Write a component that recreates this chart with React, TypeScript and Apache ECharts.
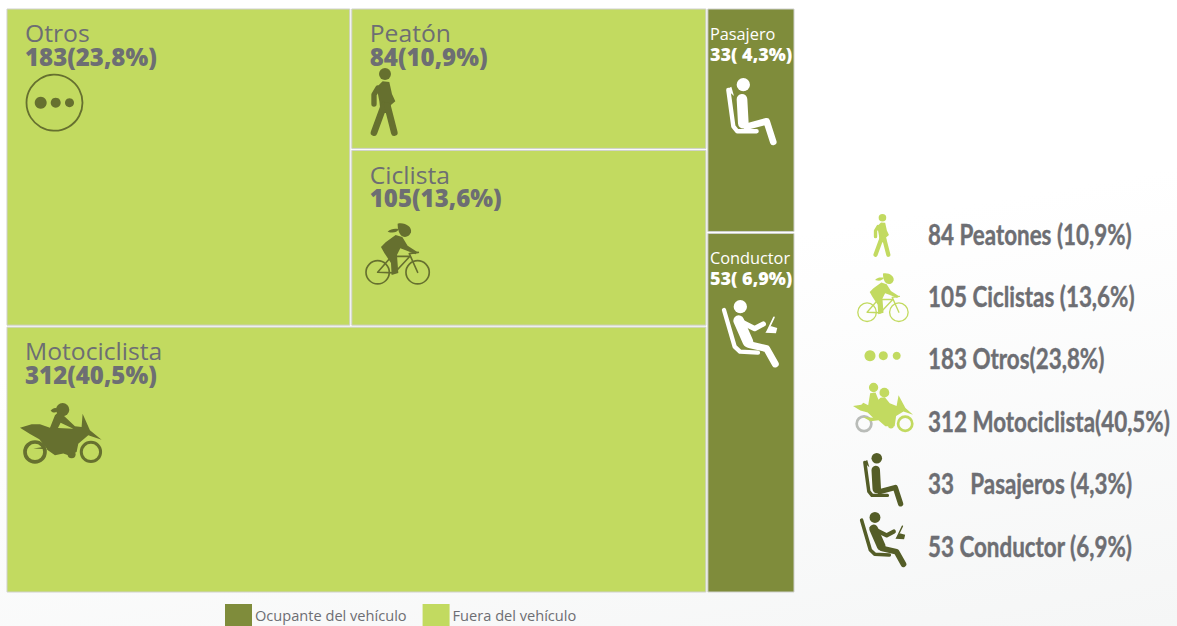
import React, { useEffect, useRef } from "react";
import * as echarts from "echarts";

// ---------- data ----------
const outsideNames = ["Motociclista", "Otros", "Peatón", "Ciclista"];
const outsideValues = [312, 183, 84, 105];
const outsideLabels = ["312(40,5%)", "183(23,8%)", "84(10,9%)", "105(13,6%)"];
const occupantNames = ["Pasajero", "Conductor"];
const occupantValues = [33, 53];
const occupantLabels = ["33( 4,3%)", "53( 6,9%)"];
const legendNames = ["Ocupante del vehículo", "Fuera del vehículo"];
const sideLabels = [
  "84 Peatones (10,9%)",
  "105 Ciclistas (13,6%)",
  "183 Otros(23,8%)",
  "312 Motociclista(40,5%)",
  "33   Pasajeros (4,3%)",
  "53 Conductor (6,9%)",
];

// ---------- style ----------
const LIGHT = "#c2da60";
const DARK = "#7f8c3b";
const ICON = "#66702f";
const ICON_DEEP = "#545d27";
const GREY = "#6d6e73";
const FONT = "Lato, 'Open Sans', sans-serif";
const CELL_FONT = "'Open Sans', Lato, sans-serif";

const sum = (a: number[]) => a.reduce((s, v) => s + v, 0);

// slice-and-dice layout in value units, handed to the axes by api.coord
type Cell = { box: number[]; name: string; label: string };
const totalOutside = sum(outsideValues);
const totalOccupant = sum(occupantValues);
const total = totalOutside + totalOccupant;

const motoShare = outsideValues[0] / totalOutside;
const topShare = 1 - motoShare;
const topTotal = outsideValues[1] + outsideValues[2] + outsideValues[3];
const otrosW = (totalOutside * outsideValues[1]) / topTotal;
const peatonShare = (topShare * outsideValues[2]) / (outsideValues[2] + outsideValues[3]);
const outsideCells: Cell[] = [
  { box: [0, topShare, totalOutside, 1], name: outsideNames[0], label: outsideLabels[0] },
  { box: [0, 0, otrosW, topShare], name: outsideNames[1], label: outsideLabels[1] },
  { box: [otrosW, 0, totalOutside, peatonShare], name: outsideNames[2], label: outsideLabels[2] },
  { box: [otrosW, peatonShare, totalOutside, topShare], name: outsideNames[3], label: outsideLabels[3] },
];
const pasajeroShare = occupantValues[0] / totalOccupant;
const occupantCells: Cell[] = [
  { box: [totalOutside, 0, total, pasajeroShare], name: occupantNames[0], label: occupantLabels[0] },
  { box: [totalOutside, pasajeroShare, total, 1], name: occupantNames[1], label: occupantLabels[1] },
];

const cellRenderer =
  (cells: Cell[], fill: string, textFill: string, padX: number, nameY: number, valueY: number, nameSize: number, valueSize: number, nameScale: number) =>
  (params: any, api: any) => {
    const c = cells[params.dataIndex];
    const a = api.coord([c.box[0], c.box[1]]);
    const b = api.coord([c.box[2], c.box[3]]);
    return {
      type: "group",
      children: [
        {
          type: "rect",
          shape: { x: a[0] + 1, y: a[1] + 1, width: b[0] - a[0] - 2, height: b[1] - a[1] - 2 },
          style: { fill, stroke: "#cfd0cc", lineWidth: 1 },
        },
        {
          type: "text",
          x: a[0] + padX,
          y: a[1] + nameY,
          scaleX: nameScale,
          style: {
            x: 0, y: 0, text: c.name, fill: textFill,
            fontFamily: CELL_FONT, fontSize: nameSize, fontWeight: 400, verticalAlign: "middle",
          },
        },
        {
          type: "text",
          style: {
            x: a[0] + padX, y: a[1] + valueY, text: c.label, fill: textFill,
            fontFamily: CELL_FONT, fontSize: valueSize, fontWeight: 800, verticalAlign: "middle",
          },
        },
      ],
    };
  };

// ---------- pictograms (paths in 3x units) ----------
const dot = (cx: number, cy: number, r: number) =>
  `M${cx - r} ${cy}a${r} ${r} 0 1 0 ${2 * r} 0a${r} ${r} 0 1 0 ${-2 * r} 0Z`;

type Part = { d: string; w?: number; tint?: string };
const walker: Part[] = [
  { d: dot(45, 18, 18) },
  { d: "M20 58L38 40L58 42L66 78L76 100L62 112L64 135L32 135L28 100Z" },
  { d: "M42 112L12 194", w: 20 },
  { d: "M52 112L73 194", w: 20 },
  { d: "M24 60L12 80L12 108", w: 16 },
];
const cyclist: Part[] = [
  { d: dot(38, 148, 35), w: 5 },
  { d: dot(158, 148, 35), w: 5 },
  { d: "M38 148L80 100L135 100L88 150Z", w: 5 },
  { d: "M158 148L133 92L160 88", w: 5 },
  { d: "M98 2C120 -3 142 12 138 28C134 42 120 44 112 40C102 34 98 18 98 2Z" },
  { d: "M68 26C78 16 90 16 102 18C96 28 84 32 68 26Z" },
  { d: "M48 72L62 58L92 36L112 42L128 68L156 86L152 94L122 82L106 76L96 96L100 150L80 156L78 120L58 90Z" },
];
const moto: Part[] = [
  { d: dot(45, 150, 30), w: 11 },
  { d: dot(213, 150, 29), w: 9 },
  { d: dot(155, 157, 12) },
  { d: dot(128, 23, 20) },
  { d: "M92 26C100 16 108 16 116 22C110 34 100 34 92 26Z" },
  { d: "M0 77L35 67L60 67L90 77L105 40L115 30L130 40L165 73L185 75L188 35L210 85L245 113L205 100L175 125L170 150L145 160L130 155L105 160L70 135L40 140L82 142L58 112L30 96ZM122 62L114 78L160 80Z" },
];
const motoTwo: Part[] = [
  { d: dot(45, 150, 30), w: 11, tint: "#b9bcb8" },
  { d: dot(213, 150, 29), w: 11 },
  { d: dot(155, 157, 12) },
  { d: dot(128, 23, 20) },
  { d: dot(84, 2, 19) },
  { d: "M62 74L70 26L92 22L104 52L112 44L130 42L150 66L178 78L186 34L214 86L245 113L206 100L176 118L170 160L132 160L104 136L72 140L40 122L82 126L60 104L30 96L0 78L34 72L42 64Z" },
];
const seatPassenger: Part[] = [
  { d: dot(52, 20, 20) },
  { d: "M48 64L52 136", w: 32 },
  { d: "M62 146L122 130L142 192", w: 20 },
  { d: "M7 36L22 145L34 160L92 160", w: 13 },
  { d: "M2 34L16 26L24 54Z" },
];
const seatDriver: Part[] = [
  { d: dot(55, 20, 20) },
  { d: "M50 62L78 126", w: 32 },
  { d: "M58 66L98 86L124 72", w: 16 },
  { d: "M82 134L134 146L160 192", w: 21 },
  { d: "M6 30L38 140L54 155L108 158", w: 13 },
  { d: "M156 52L136 94", w: 5 },
  { d: "M146 78L166 84L162 100L130 98Z" },
];

const icons: Record<string, Part[]> = { walker, cyclist, moto, motoTwo, seatPassenger, seatDriver };
Object.keys(icons).forEach((k) =>
  icons[k].forEach((p, i) =>
    echarts.graphic.registerShape(`${k}${i}`, (echarts.graphic as any).extendPath(p.d, {}))
  )
);

const TOP = 20;
const icon = (key: string, x: number, y: number, size: number, color: string) => ({
  type: "group",
  x,
  y,
  scaleX: size,
  scaleY: size,
  silent: true,
  z: TOP,
  children: icons[key].map((p, i) => ({
    type: `${key}${i}`,
    z: TOP,
    style: p.w
      ? { fill: "none", stroke: p.tint || color, lineWidth: p.w, lineCap: "round", lineJoin: "round" }
      : { fill: p.tint || color },
  })),
});

const circle = (cx: number, cy: number, r: number, color: string, w = 0) => ({
  type: "circle",
  shape: { cx, cy, r },
  silent: true,
  z: TOP,
  style: w ? { fill: "none", stroke: color, lineWidth: w } : { fill: color },
});

const sideY = [234, 296, 358, 421, 483, 546];
const sideText = sideLabels.map((t, i) => ({
  type: "text",
  x: 928,
  y: sideY[i],
  scaleX: 0.8,
  silent: true,
  z: TOP,
  style: {
    text: t, fill: GREY, stroke: GREY, lineWidth: 0.4,
    fontFamily: FONT, fontSize: 28, fontWeight: 700, verticalAlign: "middle",
  },
}));

export default function App() {
  const ref = useRef<HTMLDivElement>(null);
  useEffect(() => {
    const chart = echarts.init(ref.current!, undefined, { renderer: "svg" });
    chart.setOption({
      animation: false,
      grid: { left: 6, top: 8, width: 789, height: 585 },
      xAxis: { type: "value", min: 0, max: total, show: false },
      yAxis: { type: "value", min: 0, max: 1, inverse: true, show: false },
      legend: {
        left: 225,
        top: 604,
        padding: 0,
        itemWidth: 27,
        itemHeight: 22,
        itemGap: 16,
        selectedMode: false,
        icon: "rect",
        data: legendNames,
        textStyle: { color: GREY, fontFamily: CELL_FONT, fontSize: 14.6, padding: [9, 0, 0, -2] },
      },
      series: [
        {
          type: "custom",
          name: legendNames[0],
          coordinateSystem: "cartesian2d",
          clip: false,
          silent: true,
          itemStyle: { color: DARK },
          data: occupantCells.map((c) => c.box),
          encode: { x: [0, 2], y: [1, 3] },
          renderItem: cellRenderer(occupantCells, DARK, "#ffffff", 3, 26, 46, 16, 18, 1.02),
        },
        {
          type: "custom",
          name: legendNames[1],
          coordinateSystem: "cartesian2d",
          clip: false,
          silent: true,
          itemStyle: { color: LIGHT },
          data: outsideCells.map((c) => c.box),
          encode: { x: [0, 2], y: [1, 3] },
          renderItem: cellRenderer(outsideCells, LIGHT, GREY, 19, 25, 48, 23.5, 24, 1.05),
        },
      ],
      graphic: [
        circle(54.5, 102.7, 28, ICON, 1.8),
        circle(40.7, 102.7, 6, ICON),
        circle(55.7, 102.7, 5, ICON),
        circle(69.5, 102.7, 4.5, ICON),
        icon("walker", 370, 68, 1 / 3, ICON),
        icon("cyclist", 365, 223, 1 / 3, ICON),
        icon("moto", 20, 402, 1 / 3, ICON),
        icon("seatPassenger", 726, 78, 1 / 3, "#ffffff"),
        icon("seatDriver", 722, 300, 1 / 3, "#ffffff"),
        icon("walker", 873, 214, 0.21, LIGHT),
        icon("cyclist", 857, 273, 0.265, LIGHT),
        circle(870, 355.7, 5.5, LIGHT),
        circle(883.3, 355.7, 4.5, LIGHT),
        circle(896.7, 355.7, 4, LIGHT),
        icon("motoTwo", 853, 387, 0.245, LIGHT),
        icon("seatPassenger", 863, 453, 0.265, ICON_DEEP),
        icon("seatDriver", 860, 512, 0.272, ICON_DEEP),
        ...sideText,
      ],
    });
    return () => chart.dispose();
  }, []);
  return (
    <div
      ref={ref}
      style={{
        position: "fixed",
        left: 0,
        top: 0,
        width: 1177,
        height: 626,
        background: "linear-gradient(170deg,#ffffff 45%,#f5f6f6 100%)",
      }}
    />
  );
}
